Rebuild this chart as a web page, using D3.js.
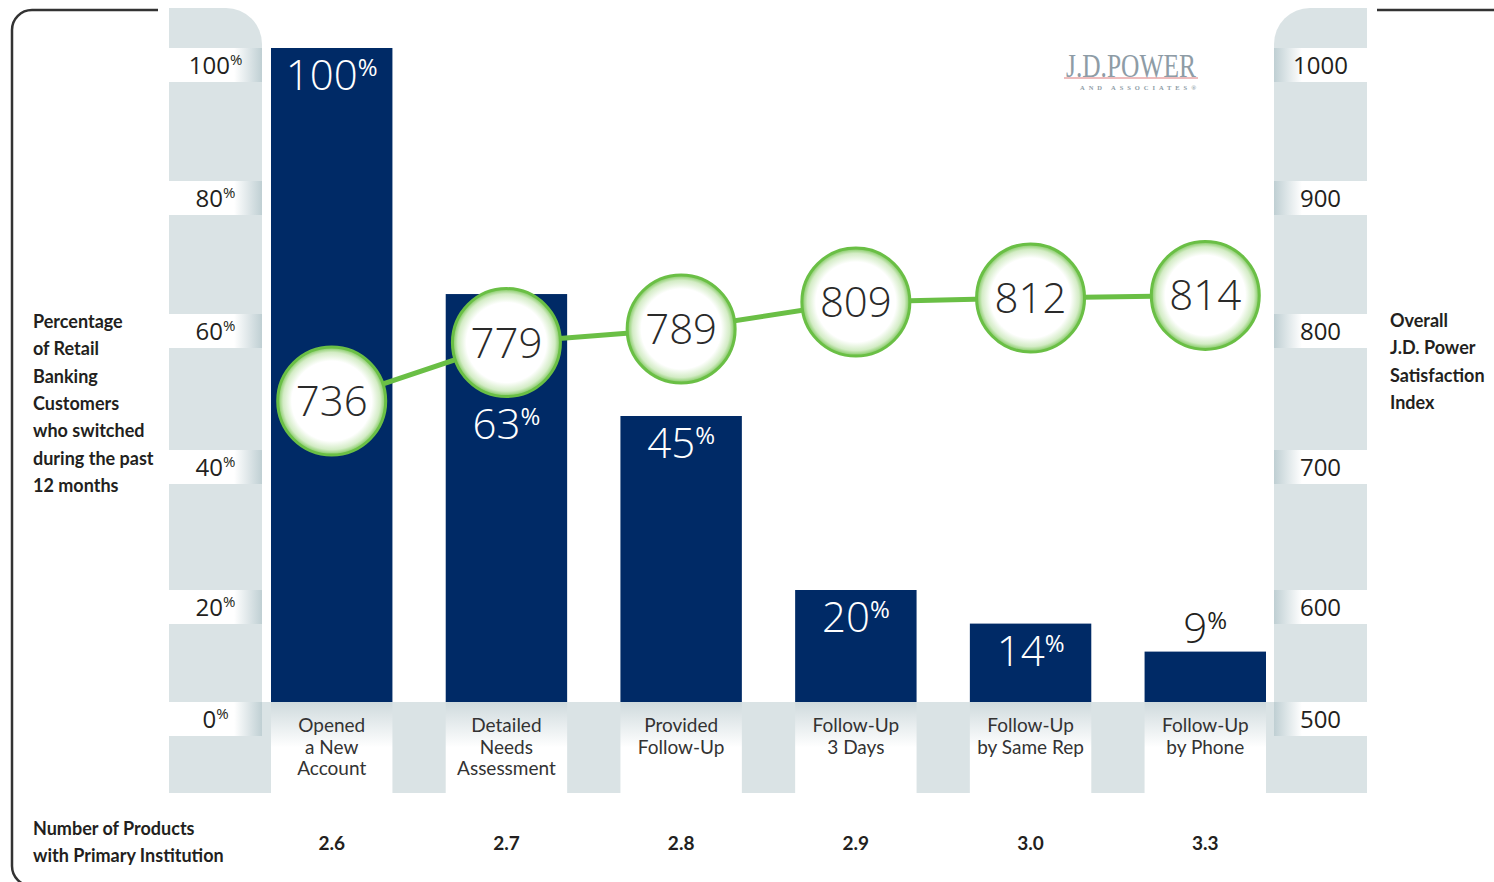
<!DOCTYPE html>
<html>
<head>
<meta charset="utf-8">
<script src="https://cdn.jsdelivr.net/npm/d3@7"></script>
<style>
  body { margin: 0; background: #fff; }
  svg { display: block; }
</style>
</head>
<body>
<div id="chart"></div>
<script>
var w = 1494;
var h = 882;

// data
var categories = ["Opened\na New\nAccount", "Detailed\nNeeds\nAssessment", "Provided\nFollow-Up",
                  "Follow-Up\n3 Days", "Follow-Up\nby Same Rep", "Follow-Up\nby Phone"];
var switchedPct = [100, 63, 45, 20, 14, 9];
var satisfaction = [736, 779, 789, 809, 812, 814];
var products = ["2.6", "2.7", "2.8", "2.9", "3.0", "3.3"];
var pctTicks = [0, 20, 40, 60, 80, 100];
var indexTicks = [500, 600, 700, 800, 900, 1000];
var leftTitle = ["Percentage", "of Retail", "Banking", "Customers", "who switched", "during the past", "12 months"];
var rightTitle = ["Overall", "J.D. Power", "Satisfaction", "Index"];
var bottomTitle = ["Number of Products", "with Primary Institution"];

var navy = "#002a66";
var green = "#6abf45";
var pill = "#dae3e5";
var ink = "#231f20";
var numFont = "'Open Sans', Lato, sans-serif";
var labFont = "Lato, 'Open Sans', sans-serif";

// tick bands in the original are not evenly spaced, so the scale follows them
var axisY = [702, 590, 450, 314, 181, 48];
var bandH = 34;
var baseY = 702, stripBottom = 793;

var x = d3.scaleBand()
    .domain(d3.range(categories.length))
    .range([271, 1266])
    .paddingInner(0.305)
    .paddingOuter(0);

var y = d3.scaleLinear().domain(pctTicks).range(axisY);
var yIndex = d3.scaleLinear().domain(indexTicks).range(axisY);

var leftPill = {x0: 169, x1: 262};
var rightPill = {x0: 1274, x1: 1367};
var r = 54;

var svg = d3.select("#chart")
    .append("svg")
    .attr("width", w)
    .attr("height", h);

var defs = svg.append("defs");

var gl = defs.append("linearGradient").attr("id", "bandL");
gl.append("stop").attr("offset", "0").attr("stop-color", "#fff");
gl.append("stop").attr("offset", "0.7").attr("stop-color", "#fff");
gl.append("stop").attr("offset", "1").attr("stop-color", "#bfcfd3");

var gr = defs.append("linearGradient").attr("id", "bandR");
gr.append("stop").attr("offset", "0").attr("stop-color", "#bfcfd3");
gr.append("stop").attr("offset", "0.3").attr("stop-color", "#fff");
gr.append("stop").attr("offset", "1").attr("stop-color", "#fff");

var gu = defs.append("linearGradient").attr("id", "under")
    .attr("x1", 0).attr("y1", 0).attr("x2", 0).attr("y2", 1);
gu.append("stop").attr("offset", "0").attr("stop-color", "#cfdadd");
gu.append("stop").attr("offset", "0.5").attr("stop-color", "#fff");
gu.append("stop").attr("offset", "1").attr("stop-color", "#fff");

var gc = defs.append("radialGradient").attr("id", "dot");
gc.append("stop").attr("offset", "0").attr("stop-color", "#fff");
gc.append("stop").attr("offset", "0.74").attr("stop-color", "#fff");
gc.append("stop").attr("offset", "0.9").attr("stop-color", "#d3ecc5");
gc.append("stop").attr("offset", "1").attr("stop-color", "#7cc75a");

// frame
svg.append("path")
    .attr("d", "M158,10 H32 A20,20 0 0 0 12,30 V866 A20,20 0 0 0 32,886 H1500")
    .attr("fill", "none")
    .attr("stroke", "#333")
    .attr("stroke-width", 2.5);
svg.append("path")
    .attr("d", "M1377,10 H1500")
    .attr("fill", "none")
    .attr("stroke", "#333")
    .attr("stroke-width", 2.5);

// axis pills
var pr = 36;
svg.append("path")
    .attr("d", "M" + leftPill.x0 + "," + stripBottom + " V8 H" + (leftPill.x1 - pr) +
        " A" + pr + "," + pr + " 0 0 1 " + leftPill.x1 + "," + (8 + pr) + " V" + stripBottom + " Z")
    .attr("fill", pill);
svg.append("path")
    .attr("d", "M" + rightPill.x1 + "," + stripBottom + " V8 H" + (rightPill.x0 + pr) +
        " A" + pr + "," + pr + " 0 0 0 " + rightPill.x0 + "," + (8 + pr) + " V" + stripBottom + " Z")
    .attr("fill", pill);

// strip under the bars
svg.append("rect")
    .attr("x", leftPill.x1)
    .attr("y", baseY)
    .attr("width", rightPill.x0 - leftPill.x1)
    .attr("height", stripBottom - baseY)
    .attr("fill", pill);

svg.selectAll("rect.under")
    .data(categories)
    .enter()
    .append("rect")
    .attr("class", "under")
    .attr("x", function(d, i) { return x(i); })
    .attr("y", baseY)
    .attr("width", x.bandwidth())
    .attr("height", stripBottom - baseY)
    .attr("fill", "url(#under)");

// left ticks
var lt = svg.selectAll("g.lt")
    .data(pctTicks)
    .enter()
    .append("g")
    .attr("class", "lt");
lt.append("rect")
    .attr("x", leftPill.x0)
    .attr("y", function(d) { return y(d); })
    .attr("width", leftPill.x1 - leftPill.x0)
    .attr("height", bandH)
    .attr("fill", "url(#bandL)");
var ltt = lt.append("text")
    .attr("x", (leftPill.x0 + leftPill.x1) / 2)
    .attr("y", function(d) { return y(d) + 26; })
    .attr("text-anchor", "middle")
    .attr("font-family", numFont)
    .attr("fill", ink);
ltt.append("tspan").attr("font-size", 24).text(function(d) { return d; });
ltt.append("tspan").attr("font-size", 15).attr("dy", -9).text("%");

// right ticks
var rt = svg.selectAll("g.rt")
    .data(indexTicks)
    .enter()
    .append("g")
    .attr("class", "rt");
rt.append("rect")
    .attr("x", rightPill.x0)
    .attr("y", function(d) { return yIndex(d); })
    .attr("width", rightPill.x1 - rightPill.x0)
    .attr("height", bandH)
    .attr("fill", "url(#bandR)");
rt.append("text")
    .attr("x", (rightPill.x0 + rightPill.x1) / 2)
    .attr("y", function(d) { return yIndex(d) + 26; })
    .attr("text-anchor", "middle")
    .attr("font-family", numFont)
    .attr("font-size", 24)
    .attr("fill", ink)
    .text(function(d) { return d; });

// bars
svg.selectAll("rect.bar")
    .data(switchedPct)
    .enter()
    .append("rect")
    .attr("class", "bar")
    .attr("x", function(d, i) { return x(i); })
    .attr("y", function(d) { return y(d); })
    .attr("width", x.bandwidth())
    .attr("height", function(d) { return baseY - y(d); })
    .attr("fill", navy);

// bar value labels: inside the top of the bar, pushed below a circle that
// covers that spot, or above the bar when the bar is too short
function cx(i) { return x(i) + x.bandwidth() / 2; }
var barLab = svg.selectAll("text.bv")
    .data(switchedPct)
    .enter()
    .append("text")
    .attr("class", "bv")
    .attr("x", function(d, i) { return cx(i); })
    .attr("y", function(d, i) {
        var top = y(d);
        if (baseY - top < 60) return top - 9;
        var cy = yIndex(satisfaction[i]);
        if (cy + r > top && cy - r < top + 44) return cy + r + 42;
        return top + 42;
    })
    .attr("text-anchor", "middle")
    .attr("font-family", numFont)
    .attr("fill", function(d) { return baseY - y(d) < 60 ? ink : "#fff"; });
barLab.append("tspan").attr("font-size", 42).attr("font-weight", 300).text(function(d) { return d; });
barLab.append("tspan").attr("font-size", 24).attr("dy", -14).text("%");

// category labels
svg.selectAll("text.cat")
    .data(categories)
    .enter()
    .append("text")
    .attr("class", "cat")
    .attr("text-anchor", "middle")
    .attr("font-family", labFont)
    .attr("font-size", 19)
    .attr("fill", "#333")
    .each(function(d, i) {
        var t = d3.select(this);
        d.split("\n").forEach(function(line, k) {
            t.append("tspan")
                .attr("x", cx(i))
                .attr("y", 732 + k * 21.5)
                .text(line);
        });
    });

// products row
svg.selectAll("text.prod")
    .data(products)
    .enter()
    .append("text")
    .attr("class", "prod")
    .attr("x", function(d, i) { return cx(i); })
    .attr("y", 850)
    .attr("text-anchor", "middle")
    .attr("font-family", labFont)
    .attr("font-weight", 700)
    .attr("font-size", 19)
    .attr("fill", ink)
    .text(function(d) { return d; });

// satisfaction line
var line = d3.line()
    .x(function(d, i) { return cx(i); })
    .y(function(d) { return yIndex(d); });

svg.append("path")
    .datum(satisfaction)
    .attr("d", line)
    .attr("fill", "none")
    .attr("stroke", green)
    .attr("stroke-width", 5);

svg.selectAll("circle.dot")
    .data(satisfaction)
    .enter()
    .append("circle")
    .attr("class", "dot")
    .attr("cx", function(d, i) { return cx(i); })
    .attr("cy", function(d) { return yIndex(d); })
    .attr("r", r)
    .attr("fill", "url(#dot)")
    .attr("stroke", green)
    .attr("stroke-width", 3);

svg.selectAll("text.dv")
    .data(satisfaction)
    .enter()
    .append("text")
    .attr("class", "dv")
    .attr("x", function(d, i) { return cx(i); })
    .attr("y", function(d) { return yIndex(d) + 15; })
    .attr("text-anchor", "middle")
    .attr("font-family", numFont)
    .attr("font-weight", 300)
    .attr("font-size", 42)
    .attr("fill", "#2a2a2a")
    .text(function(d) { return d; });

// side titles
function block(lines, x0, y0, step) {
    var t = svg.append("text")
        .attr("font-family", labFont)
        .attr("font-weight", 700)
        .attr("font-size", 18)
        .attr("fill", ink);
    lines.forEach(function(s, k) {
        t.append("tspan").attr("x", x0).attr("y", y0 + k * step).text(s);
    });
}
block(leftTitle, 33, 328, 27.3);
block(rightTitle, 1390, 327, 27.3);
block(bottomTitle, 33, 835, 27);

// logo
svg.append("line")
    .attr("x1", 1064).attr("x2", 1198)
    .attr("y1", 78).attr("y2", 78)
    .attr("stroke", "#e9a6a6")
    .attr("stroke-width", 1.3);
svg.append("text")
    .attr("x", 1066)
    .attr("y", 77)
    .attr("font-family", "'Liberation Serif', 'DejaVu Serif', serif")
    .attr("font-size", 34)
    .attr("textLength", 130)
    .attr("lengthAdjust", "spacingAndGlyphs")
    .attr("fill", "#8e9ca6")
    .text("J.D.POWER");
svg.append("text")
    .attr("x", 1080)
    .attr("y", 90)
    .attr("font-family", "'Liberation Serif', serif")
    .attr("font-weight", 700)
    .attr("font-size", 6.5)
    .attr("textLength", 116)
    .attr("fill", "#8e9ca6")
    .text("AND ASSOCIATES\u00ae");
</script>
</body>
</html>
